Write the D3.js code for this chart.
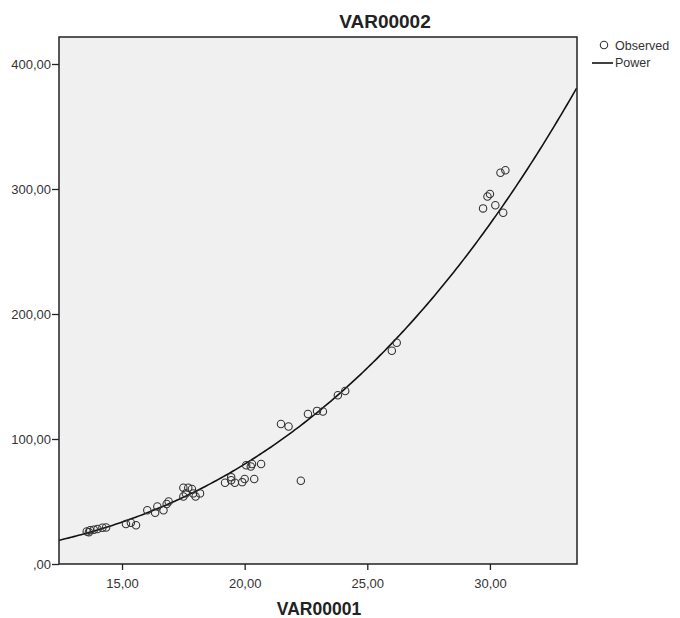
<!DOCTYPE html>
<html>
<head>
<meta charset="utf-8">
<script src="https://cdn.jsdelivr.net/npm/d3@7"></script>
<style>
  body { margin: 0; background: #fff; }
  text { font-family: "Liberation Sans", Arial, sans-serif; }
</style>
</head>
<body>
<div id="vis"></div>
<script>
// observed values (VAR00001, VAR00002)
var var1 = [13.56, 13.65, 13.7, 13.85, 14.0, 14.2, 14.35,
            15.16, 15.36, 15.57,
            16.03, 16.35, 16.44, 16.69, 16.82, 16.9,
            17.5, 17.7, 17.85, 17.5, 17.6, 17.9, 18.0, 18.18,
            19.2, 19.45, 19.45, 19.6, 19.9, 20.0, 20.39,
            20.06, 20.25, 20.3, 20.67,
            22.29,
            21.48, 21.79, 22.58, 22.95, 23.19,
            23.8, 24.1,
            26.0, 26.2,
            29.72, 29.9, 30.0, 30.22, 30.43, 30.63, 30.54];
var var2 = [26, 25.5, 27, 27.5, 28, 29, 29.2,
            32, 33, 31,
            43, 41, 46, 43, 48, 50,
            61, 61, 60, 54, 56.5, 56.5, 54, 56.5,
            65, 67, 69.5, 65, 65.5, 68, 68,
            79, 78, 80, 80,
            66.6,
            112, 110, 120, 122.5, 122,
            135, 138.4,
            170.6, 177,
            284.5, 294, 296, 287, 313, 315, 281];

// power model y = a * x^b
var powA = 0.00941, powB = 3.02;

var xTicks = [15, 20, 25, 30];
var xTickLabels = ["15,00", "20,00", "25,00", "30,00"];
var yTicks = [0, 100, 200, 300, 400];
var yTickLabels = [",00", "100,00", "200,00", "300,00", "400,00"];

var w = 680, h = 618;
var pLeft = 59, pRight = 577, pTop = 37, pBottom = 564;

var svg = d3.select("#vis").append("svg")
  .attr("width", w).attr("height", h);

var x = d3.scaleLinear().domain([12.43, 33.55]).range([pLeft, pRight]);
var y = d3.scaleLinear().domain([0, 421.6]).range([pBottom, pTop]);

svg.append("rect")
  .attr("x", pLeft).attr("y", pTop)
  .attr("width", pRight - pLeft).attr("height", pBottom - pTop)
  .attr("fill", "#f0f0f0");

svg.append("clipPath").attr("id", "clip")
  .append("rect")
  .attr("x", pLeft).attr("y", pTop)
  .attr("width", pRight - pLeft).attr("height", pBottom - pTop);

// fit line
var xs = d3.range(12.43, 33.56, 0.1);
var line = d3.line()
  .x(function(d) { return x(d); })
  .y(function(d) { return y(powA * Math.pow(d, powB)); });

svg.append("path")
  .datum(xs)
  .attr("clip-path", "url(#clip)")
  .attr("d", line)
  .attr("fill", "none")
  .attr("stroke", "#111")
  .attr("stroke-width", 1.6);

// observed points
svg.append("g").selectAll("circle")
  .data(var1)
  .enter()
  .append("circle")
  .attr("cx", function(d) { return x(d); })
  .attr("cy", function(d, i) { return y(var2[i]); })
  .attr("r", 3.7)
  .attr("fill", "none")
  .attr("stroke", "#333")
  .attr("stroke-width", 1.1);

// frame
svg.append("rect")
  .attr("x", pLeft).attr("y", pTop)
  .attr("width", pRight - pLeft).attr("height", pBottom - pTop)
  .attr("fill", "none")
  .attr("stroke", "#222")
  .attr("stroke-width", 1.5);

// axes
var xAxis = d3.axisBottom(x)
  .tickValues(xTicks)
  .tickSize(6)
  .tickFormat(function(d, i) { return xTickLabels[i]; });
var gx = svg.append("g")
  .attr("transform", "translate(0," + pBottom + ")")
  .call(xAxis);
gx.select(".domain").remove();
gx.selectAll("line").attr("stroke", "#222").attr("stroke-width", 1.3);
gx.selectAll("text").attr("font-size", 13).attr("fill", "#333")
  .attr("y", 24).attr("dy", 0);

var yAxis = d3.axisLeft(y)
  .tickValues(yTicks)
  .tickSize(7)
  .tickFormat(function(d, i) { return yTickLabels[i]; });
var gy = svg.append("g")
  .attr("transform", "translate(" + pLeft + ",0)")
  .call(yAxis);
gy.select(".domain").remove();
gy.selectAll("line").attr("stroke", "#222").attr("stroke-width", 1.3);
gy.selectAll("text").attr("font-size", 13).attr("fill", "#333").attr("x", -8);

// titles
svg.append("text")
  .attr("x", 385).attr("y", 28)
  .attr("text-anchor", "middle")
  .attr("font-size", 19).attr("font-weight", "bold").attr("fill", "#222")
  .text("VAR00002");

svg.append("text")
  .attr("x", 319).attr("y", 615)
  .attr("text-anchor", "middle")
  .attr("font-size", 17.5).attr("font-weight", "bold").attr("fill", "#222")
  .text("VAR00001");

// legend
var lg = svg.append("g");
lg.append("circle")
  .attr("cx", 604).attr("cy", 45).attr("r", 3.7)
  .attr("fill", "none").attr("stroke", "#333").attr("stroke-width", 1.1);
lg.append("text")
  .attr("x", 615).attr("y", 50)
  .attr("font-size", 12.5).attr("fill", "#333")
  .text("Observed");
lg.append("line")
  .attr("x1", 592).attr("x2", 613).attr("y1", 63).attr("y2", 63)
  .attr("stroke", "#111").attr("stroke-width", 1.6);
lg.append("text")
  .attr("x", 615).attr("y", 67)
  .attr("font-size", 12.5).attr("fill", "#333")
  .text("Power");
</script>
</body>
</html>
